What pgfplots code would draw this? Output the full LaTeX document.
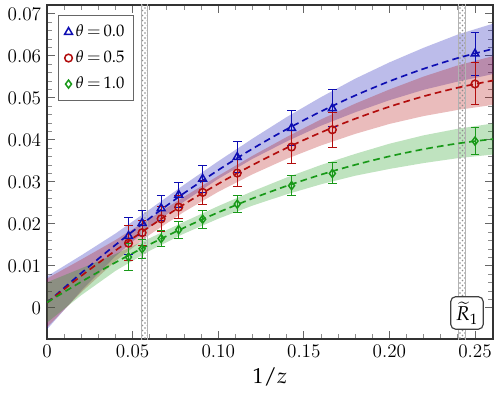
\documentclass[border=0pt]{standalone}
\usepackage{mathpazo}
\usepackage{pgfplots}
\usepackage{pgfplotstable}
\pgfplotsset{compat=1.18}
\usepgfplotslibrary{fillbetween}
\usetikzlibrary{patterns}
\definecolor{cblue}{rgb}{0.05,0.05,0.7}
\definecolor{cred}{rgb}{0.7,0.05,0.05}
\definecolor{cgreen}{rgb}{0.1,0.6,0.1}

\pgfplotstableread{
x y e
0.047619 0.0171 0.0045
0.055556 0.0202 0.0030
0.066667 0.0237 0.0030
0.076923 0.0269 0.0029
0.090909 0.0307 0.0032
0.111111 0.0359 0.0036
0.142857 0.0428 0.0042
0.166667 0.0475 0.0044
0.25     0.0605 0.0051
}\datablue
\pgfplotstableread{
x y e
0.047619 0.0154 0.0042
0.055556 0.0179 0.0030
0.066667 0.0212 0.0029
0.076923 0.0240 0.0028
0.090909 0.0275 0.0029
0.111111 0.0321 0.0032
0.142857 0.0383 0.0039
0.166667 0.0424 0.0041
0.25     0.0533 0.0050
}\datared
\pgfplotstableread{
x y e
0.047619 0.0121 0.0032
0.055556 0.0141 0.0023
0.066667 0.0165 0.0020
0.076923 0.0186 0.0020
0.090909 0.0211 0.0021
0.111111 0.0247 0.0021
0.142857 0.0291 0.0024
0.166667 0.0320 0.0025
0.25     0.0397 0.0033
}\datagreen
% fit curves: x, central value, lower, upper
\pgfplotstableread{
x y lo hi
0      0.00120 -0.00510 0.00750
0.02   0.00830  0.00410 0.01250
0.04   0.01500  0.01230 0.01770
0.06   0.02135  0.01925 0.02345
0.08   0.02730  0.02530 0.02930
0.10   0.03280  0.03070 0.03490
0.12   0.03788  0.03548 0.04028
0.14   0.04253  0.03963 0.04543
0.16   0.04676  0.04336 0.05016
0.18   0.05056  0.04656 0.05456
0.20   0.05394  0.04944 0.05844
0.22   0.05692  0.05192 0.06192
0.24   0.05948  0.05388 0.06508
0.2605 0.06166  0.05566 0.06766
}\fitblue
\pgfplotstableread{
x y lo hi
0      0.00120 -0.00460 0.00700
0.02   0.00762  0.00372 0.01152
0.04   0.01366  0.01116 0.01616
0.06   0.01935  0.01745 0.02125
0.08   0.02465  0.02285 0.02645
0.10   0.02953  0.02763 0.03143
0.12   0.03400  0.03180 0.03620
0.14   0.03808  0.03548 0.04068
0.16   0.04176  0.03866 0.04486
0.18   0.04502  0.04142 0.04862
0.20   0.04789  0.04379 0.05199
0.22   0.05037  0.04567 0.05507
0.24   0.05243  0.04713 0.05773
0.2605 0.05413  0.04833 0.05993
}\fitred
\pgfplotstableread{
x y lo hi
0      0.00130 -0.00350 0.00610
0.02   0.00622  0.00302 0.00942
0.04   0.01082  0.00882 0.01282
0.06   0.01511  0.01361 0.01661
0.08   0.01908  0.01768 0.02048
0.10   0.02273  0.02123 0.02423
0.12   0.02605  0.02435 0.02775
0.14   0.02904  0.02704 0.03104
0.16   0.03172  0.02942 0.03402
0.18   0.03406  0.03146 0.03666
0.20   0.03608  0.03308 0.03908
0.22   0.03778  0.03448 0.04108
0.24   0.03915  0.03565 0.04265
0.2605 0.04020  0.03650 0.04390
}\fitgreen

\begin{document}
\begin{tikzpicture}
\begin{axis}[
  name=main,
  scale only axis,
  width=267.6pt, height=200.4pt,
  xmin=0, xmax=0.2605,
  ymin=-0.0074, ymax=0.0721,
  scaled y ticks=false, scaled x ticks=false,
  xtick={0,0.05,0.10,0.15,0.20,0.25},
  xticklabels={0,0.05,0.10,0.15,0.20,0.25},
  ytick={0,0.01,0.02,0.03,0.04,0.05,0.06,0.07},
  yticklabels={0,0.01,0.02,0.03,0.04,0.05,0.06,0.07},
  minor x tick num=4,
  minor y tick num=4,
  tick align=inside,
  tick pos=both,
  major tick length=5pt,
  minor tick length=3pt,
  tick style={black!60, line width=0.5pt},
  minor tick style={black!45},
  axis line style={black!80, line width=1pt},
  xlabel={$1/z$},
  xlabel style={yshift=1pt},
  ticklabel style={font=\fontsize{11.5}{13}\selectfont},
  every axis label/.append style={font=\fontsize{13}{15}\selectfont},
  legend style={draw=black!60, line width=0.8pt, font=\normalsize, inner sep=3.5pt, row sep=3pt, at={(0.025,0.97)}, anchor=north west},
  legend cell align=left,
  clip=true,
]
% hatched bands
\addplot[draw=black!30, line width=0.3pt, pattern=crosshatch dots, pattern color=black!45, forget plot]
  coordinates {(0.0553,-0.01) (0.0586,-0.01) (0.0586,0.08) (0.0553,0.08)} -- cycle;
\addplot[draw=black!30, line width=0.3pt, pattern=crosshatch dots, pattern color=black!45, forget plot]
  coordinates {(0.2403,-0.01) (0.2442,-0.01) (0.2442,0.08) (0.2403,0.08)} -- cycle;

% error bands
\addplot[name path=bh, draw=none, forget plot] table[x=x, y=hi] {\fitblue};
\addplot[name path=bl, draw=none, forget plot] table[x=x, y=lo] {\fitblue};
\addplot[fill=cblue, fill opacity=0.28, draw=none, forget plot] fill between[of=bh and bl];
\addplot[name path=rh, draw=none, forget plot] table[x=x, y=hi] {\fitred};
\addplot[name path=rl, draw=none, forget plot] table[x=x, y=lo] {\fitred};
\addplot[fill=cred, fill opacity=0.28, draw=none, forget plot] fill between[of=rh and rl];
\addplot[name path=gh, draw=none, forget plot] table[x=x, y=hi] {\fitgreen};
\addplot[name path=gl, draw=none, forget plot] table[x=x, y=lo] {\fitgreen};
\addplot[fill=cgreen, fill opacity=0.28, draw=none, forget plot] fill between[of=gh and gl];

% fit lines
\addplot[cblue, dash pattern=on 4pt off 2.5pt, line width=1pt, smooth, forget plot] table[x=x, y=y] {\fitblue};
\addplot[cred, dash pattern=on 4pt off 2.5pt, line width=1pt, smooth, forget plot] table[x=x, y=y] {\fitred};
\addplot[cgreen, dash pattern=on 4pt off 2.5pt, line width=1pt, smooth, forget plot] table[x=x, y=y] {\fitgreen};

% data
\addplot[cblue, only marks, mark=triangle, mark size=2.7pt, mark options={line width=0.9pt},
  error bars/.cd, y dir=both, y explicit, error bar style={cblue, line width=0.6pt}, error mark options={cblue, rotate=90, mark size=2.6pt, line width=0.6pt}]
  table[x=x, y=y, y error=e] {\datablue};
\addlegendentry{$\theta\,{=}\,0.0$}
\addplot[cred, only marks, mark=o, mark size=2.3pt, mark options={line width=0.9pt},
  error bars/.cd, y dir=both, y explicit, error bar style={cred, line width=0.6pt}, error mark options={cred, rotate=90, mark size=2.6pt, line width=0.6pt}]
  table[x=x, y=y, y error=e] {\datared};
\addlegendentry{$\theta\,{=}\,0.5$}
\addplot[cgreen, only marks, mark=diamond, mark size=2.4pt, mark options={line width=0.9pt},
  error bars/.cd, y dir=both, y explicit, error bar style={cgreen, line width=0.6pt}, error mark options={cgreen, rotate=90, mark size=2.6pt, line width=0.6pt}]
  table[x=x, y=y, y error=e] {\datagreen};
\addlegendentry{$\theta\,{=}\,1.0$}

\node[draw=black!75, line width=0.7pt, rounded corners=3pt, fill=white, inner sep=3pt, font=\large] at (axis cs:0.2453,-0.0012) {$\widetilde{R}_1$};
\end{axis}
\pgfresetboundingbox
\path ([xshift=-28.2pt,yshift=-32.4pt]main.south west) rectangle ([xshift=3.6pt,yshift=3pt]main.north east);
\end{tikzpicture}
\end{document}
